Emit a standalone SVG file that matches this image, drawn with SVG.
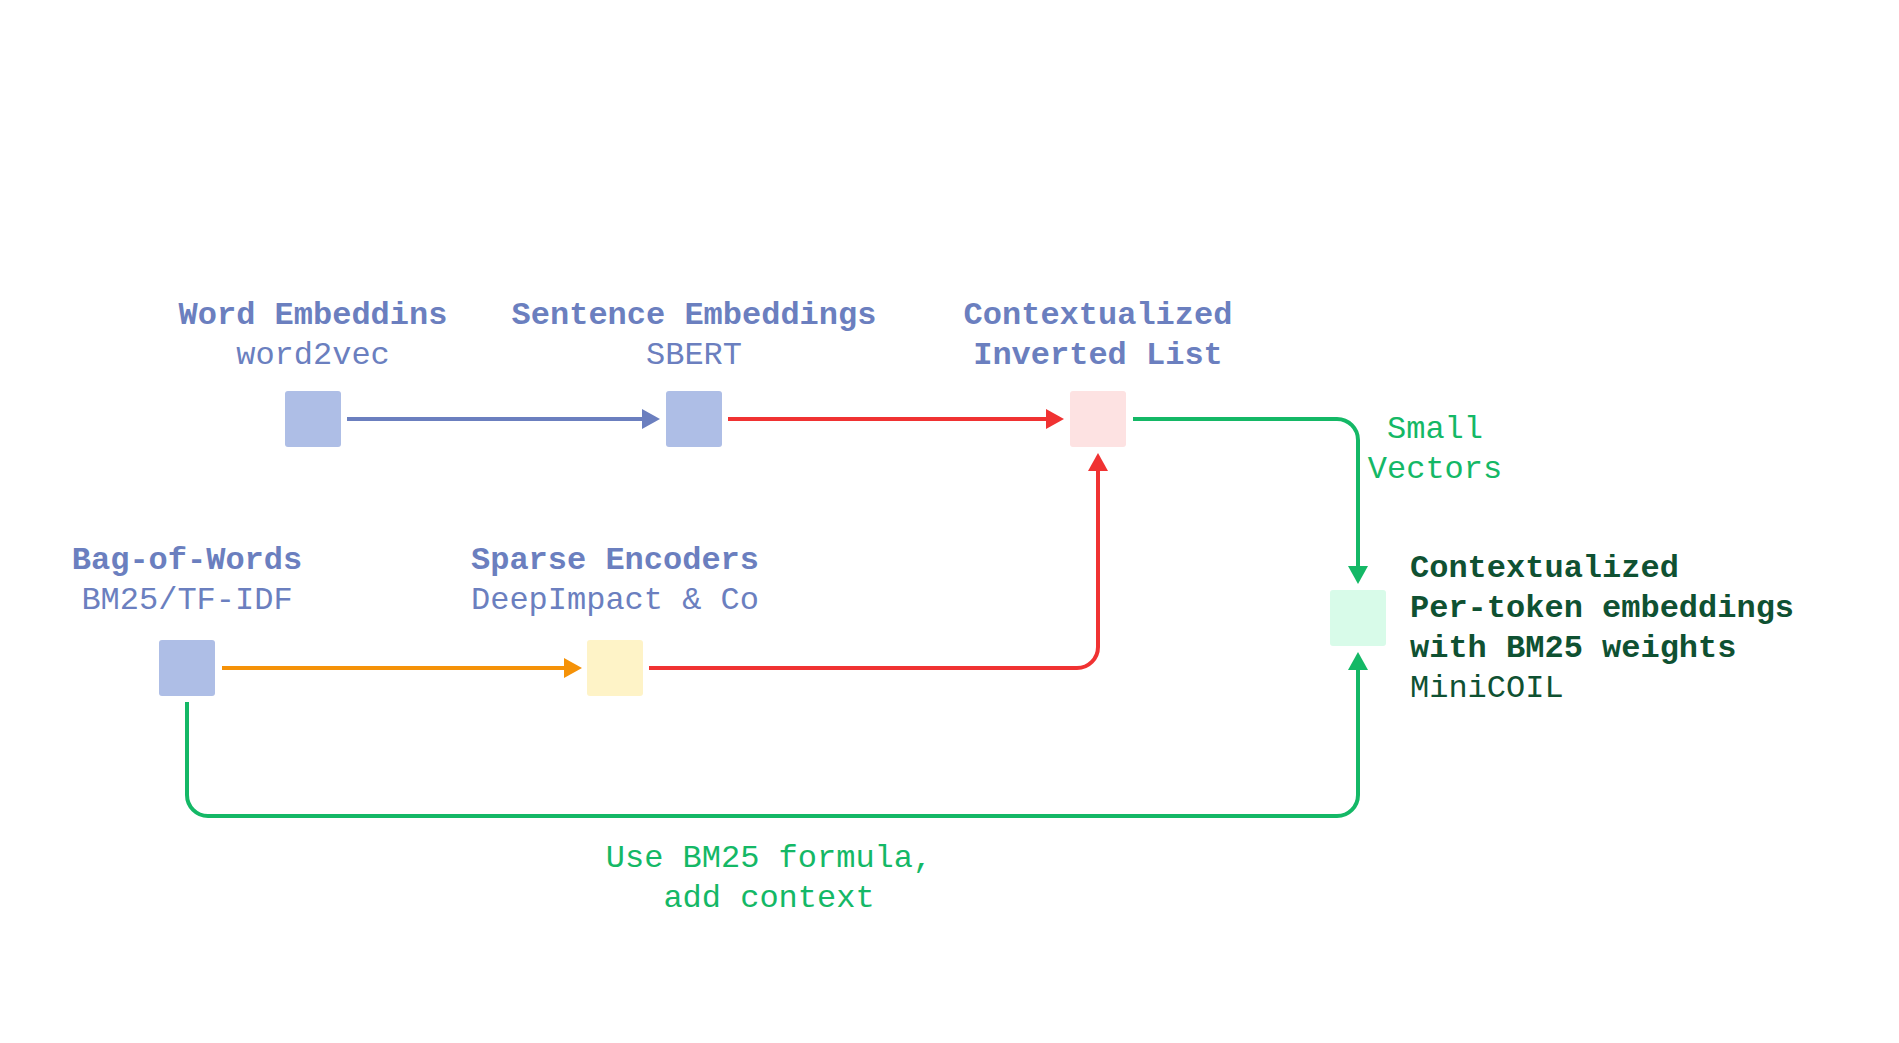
<svg xmlns="http://www.w3.org/2000/svg" width="1899" height="1043" viewBox="0 0 1899 1043">
<style>
text { font-family: "Liberation Mono", "DejaVu Sans Mono", monospace; font-size: 32px; }
.t { fill: #6b7fbf; font-weight: bold; text-anchor: middle; }
.s { fill: #6b7fbf; text-anchor: middle; }
.g { fill: #14b866; text-anchor: middle; }
.d { fill: #0f5132; font-weight: bold; }
.dr { fill: #0f5132; }
.c { fill: none; stroke-width: 4; }
</style>
<defs>
<marker id="ab" markerUnits="userSpaceOnUse" markerWidth="20" markerHeight="22" refX="1" refY="10" orient="auto"><path d="M0,0 L18,10 L0,20 z" fill="#6b7fbf"/></marker>
<marker id="ar" markerUnits="userSpaceOnUse" markerWidth="20" markerHeight="22" refX="1" refY="10" orient="auto"><path d="M0,0 L18,10 L0,20 z" fill="#f03232"/></marker>
<marker id="ag" markerUnits="userSpaceOnUse" markerWidth="20" markerHeight="22" refX="1" refY="10" orient="auto"><path d="M0,0 L18,10 L0,20 z" fill="#14b866"/></marker>
<marker id="ao" markerUnits="userSpaceOnUse" markerWidth="20" markerHeight="22" refX="1" refY="10" orient="auto"><path d="M0,0 L18,10 L0,20 z" fill="#f59208"/></marker>
</defs>
<rect width="1899" height="1043" fill="#ffffff"/>
<g id="connectors">
<path class="c" stroke="#6b7fbf" d="M347,419 H643" marker-end="url(#ab)"/>
<path class="c" stroke="#f03232" d="M728,419 H1047" marker-end="url(#ar)"/>
<path class="c" stroke="#14b866" d="M1133,419 H1337 A21,21 0 0 1 1358,440 V567" marker-end="url(#ag)"/>
<path class="c" stroke="#f59208" d="M222,668 H565" marker-end="url(#ao)"/>
<path class="c" stroke="#f03232" d="M649,668 H1077 A21,21 0 0 0 1098,647 V470" marker-end="url(#ar)"/>
<path class="c" stroke="#14b866" d="M187,702 V795 A21,21 0 0 0 208,816 H1337 A21,21 0 0 0 1358,795 V669" marker-end="url(#ag)"/>
<text class="g" x="1435" y="438">Small</text>
<text class="g" x="1435" y="478">Vectors</text>
<text class="g" x="769" y="867">Use BM25 formula,</text>
<text class="g" x="769" y="907">add context</text>
</g>
<g id="word2vec">
<text class="t" x="313" y="324">Word Embeddins</text>
<text class="s" x="313" y="364">word2vec</text>
<rect x="285" y="391" width="56" height="56" rx="3" fill="#aebee6"/>
</g>
<g id="sbert">
<text class="t" x="694" y="324">Sentence Embeddings</text>
<text class="s" x="694" y="364">SBERT</text>
<rect x="666" y="391" width="56" height="56" rx="3" fill="#aebee6"/>
</g>
<g id="inverted-list">
<text class="t" x="1098" y="324">Contextualized</text>
<text class="t" x="1098" y="364">Inverted List</text>
<rect x="1070" y="391" width="56" height="56" rx="3" fill="#fde2e2"/>
</g>
<g id="bag-of-words">
<text class="t" x="187" y="569">Bag-of-Words</text>
<text class="s" x="187" y="609">BM25/TF-IDF</text>
<rect x="159" y="640" width="56" height="56" rx="3" fill="#aebee6"/>
</g>
<g id="sparse-encoders">
<text class="t" x="615" y="569">Sparse Encoders</text>
<text class="s" x="615" y="609">DeepImpact &amp; Co</text>
<rect x="587" y="640" width="56" height="56" rx="3" fill="#fef3c7"/>
</g>
<g id="minicoil">
<rect x="1330" y="590" width="56" height="56" rx="3" fill="#d8fbe9"/>
<text class="d" x="1410" y="577">Contextualized</text>
<text class="d" x="1410" y="617">Per-token embeddings</text>
<text class="d" x="1410" y="657">with BM25 weights</text>
<text class="dr" x="1410" y="697">MiniCOIL</text>
</g>
</svg>
